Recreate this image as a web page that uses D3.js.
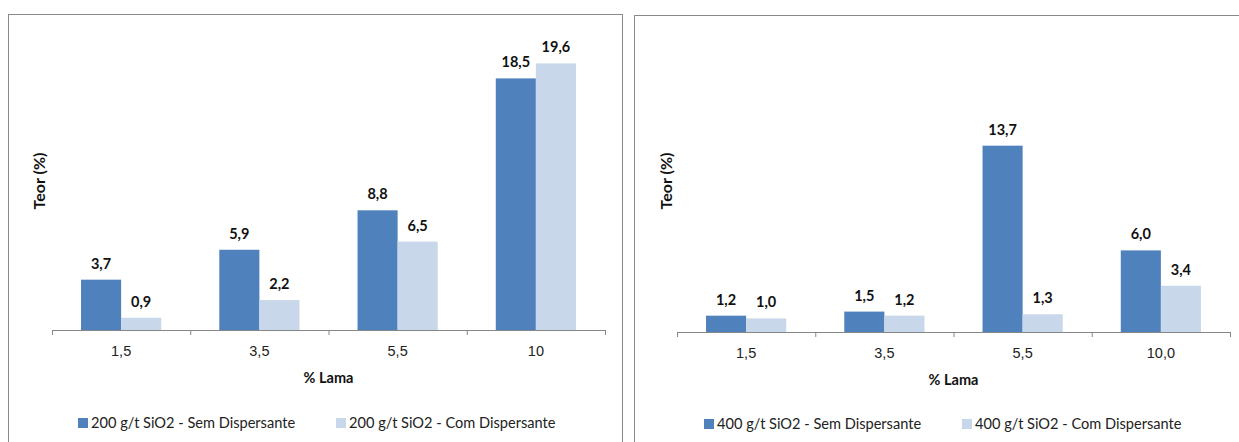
<!DOCTYPE html>
<html>
<head>
<meta charset="utf-8">
<style>
  body { margin: 0; background: #fff; }
  svg { display: block; font-family: Lato, 'Open Sans', sans-serif; }
  .tick line, .domain { stroke: #868686; }
  .lbl text { font-size: 14.5px; fill: #222; }
  .val { font-size: 14.5px; font-weight: bold; fill: #111; }
  .title { font-size: 14.5px; font-weight: bold; fill: #111; }
  .ytitle { font-size: 16px; }
  .leg { font-size: 14.6px; fill: #222; }
</style>
</head>
<body>
<svg width="1239" height="442"></svg>
<script src="https://d3js.org/d3.v7.min.js"></script>
<script>
// data
let categoriesA = ["1,5", "3,5", "5,5", "10"];
let semA = [3.7, 5.9, 8.8, 18.5];
let comA = [0.9, 2.2, 6.5, 19.6];
let seriesA = ["200 g/t SiO2 - Sem Dispersante", "200 g/t SiO2 - Com Dispersante"];

let categoriesB = ["1,5", "3,5", "5,5", "10,0"];
let semB = [1.2, 1.5, 13.7, 6.0];
let comB = [1.0, 1.2, 1.3, 3.4];
let seriesB = ["400 g/t SiO2 - Sem Dispersante", "400 g/t SiO2 - Com Dispersante"];

let colors = ["#4f81bd", "#c8d7ea"];
let fmt = v => d3.format(".1f")(v).replace(".", ",");

let svg = d3.select("svg");

function drawPanel(p) {
  // outer frame
  svg.append("rect")
    .attr("x", p.box[0] + 0.5).attr("y", p.box[1] + 0.5)
    .attr("width", p.box[2]).attr("height", 500)
    .attr("fill", "none").attr("stroke", "#8a8a8a");

  let x = d3.scaleBand().domain(p.cats).range([p.left, p.right])
    .paddingInner(0.42).paddingOuter(0.21);
  let xs = d3.scaleBand().domain([0, 1]).range([0, x.bandwidth()]);
  let y = d3.scaleLinear().domain([0, 20]).range([p.base, p.top]);

  let rows = p.cats.map((c, i) => ({ cat: c, vals: [p.sem[i], p.com[i]] }));

  let g = svg.append("g");
  g.selectAll("g.grp")
    .data(rows)
    .join("g")
    .attr("class", "grp")
    .attr("transform", d => `translate(${x(d.cat)},0)`)
    .each(function (d) {
      let sel = d3.select(this);
      sel.selectAll("rect")
        .data(d.vals)
        .join("rect")
        .attr("x", (v, j) => xs(j))
        .attr("width", xs.bandwidth())
        .attr("y", v => y(v))
        .attr("height", v => y(0) - y(v))
        .attr("fill", (v, j) => colors[j]);
      sel.selectAll("text")
        .data(d.vals)
        .join("text")
        .attr("class", "val")
        .attr("x", (v, j) => xs(j) + xs.bandwidth() / 2)
        .attr("y", v => y(v) - 11)
        .attr("text-anchor", "middle")
        .text(fmt);
    });

  // axis line with ticks at category boundaries
  let xb = d3.scaleLinear().domain([0, p.cats.length]).range([p.left, p.right]);
  svg.append("g")
    .attr("transform", `translate(0,${p.base})`)
    .call(d3.axisBottom(xb).tickValues(d3.range(p.cats.length + 1)).tickSize(5).tickSizeOuter(5).tickFormat(""));

  // category labels
  svg.append("g")
    .attr("class", "lbl")
    .attr("transform", `translate(0,${p.base})`)
    .call(d3.axisBottom(x).tickSize(0).tickPadding(16))
    .call(a => a.select(".domain").remove());

  svg.append("text").attr("class", "title")
    .attr("x", (p.left + p.right) / 2).attr("y", p.base + 53)
    .attr("text-anchor", "middle").text("% Lama");

  svg.append("text").attr("class", "title ytitle")
    .attr("transform", `translate(${p.ylx},${181}) rotate(-90)`)
    .attr("text-anchor", "middle").text("Teor (%)");

  // legend
  p.series.forEach((s, j) => {
    svg.append("rect")
      .attr("x", p.leg[j]).attr("y", p.legY - 5)
      .attr("width", 10).attr("height", 10)
      .attr("fill", colors[j]);
    svg.append("text").attr("class", "leg")
      .attr("x", p.leg[j] + 13).attr("y", p.legY + 5)
      .text(s);
  });
}

drawPanel({
  box: [8, 14, 614], left: 52, right: 605, base: 330, top: 58,
  cats: categoriesA, sem: semA, com: comA, series: seriesA,
  ylx: 45, leg: [78, 336], legY: 423
});

drawPanel({
  box: [634, 15, 620], left: 677, right: 1230, base: 332, top: 60,
  cats: categoriesB, sem: semB, com: comB, series: seriesB,
  ylx: 672, leg: [704, 962], legY: 424
});
</script>
</body>
</html>
